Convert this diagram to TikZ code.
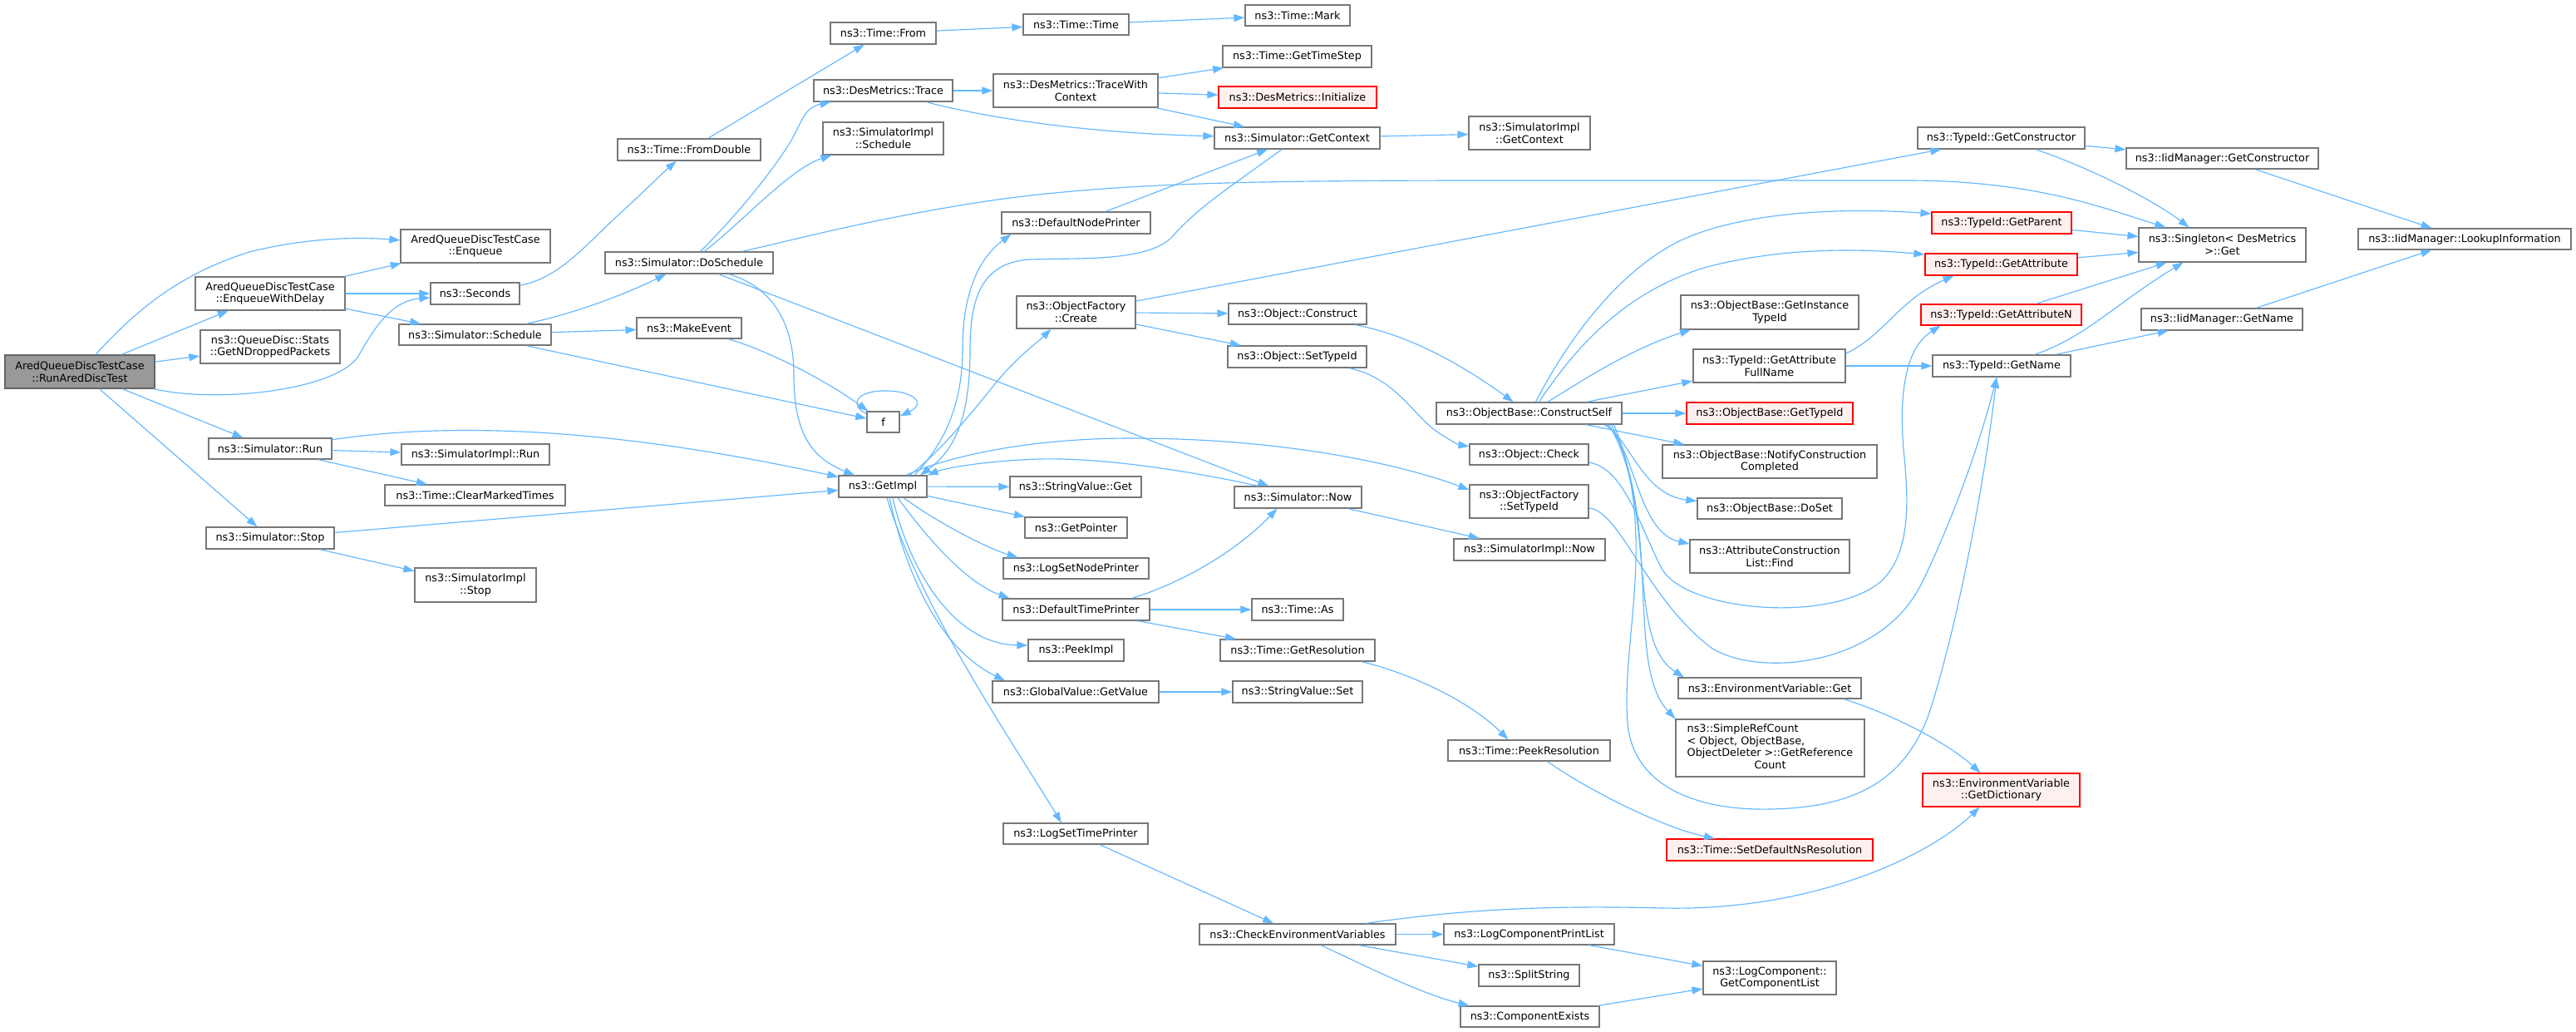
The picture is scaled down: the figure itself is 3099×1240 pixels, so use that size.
\documentclass[tikz,border=0pt]{standalone}
\usepackage{fontspec}
\setmainfont{DejaVu Sans}
\usetikzlibrary{arrows.meta,calc}
\definecolor{edgec}{HTML}{63B8FF}
\definecolor{nodeb}{HTML}{777777}
\definecolor{mainf}{HTML}{999999}
\definecolor{redf}{HTML}{FFF0F0}
\newcommand{\mynode}[7][]{\node[box,#1,minimum width={#4-#3},minimum height={#6-#5}] (#2) at ({(#3+#4)/2},{(#5+#6)/2}) {#7};}
\begin{document}
\begin{tikzpicture}[x=1pt,y=-1pt,
  box/.style={draw=nodeb,line width=1.2pt,fill=white,inner sep=0pt,align=center,font=\fontsize{12.8}{14.7}\selectfont},
  mainbox/.style={fill=mainf,draw=nodeb!85!black},
  redbox/.style={draw=red,fill=redf},
  cl/.style={draw=edgec,line width=1.15pt,-{Triangle[length=13pt,width=9pt]}}]
\fill[white] (0,0) rectangle (3099,1240);
\useasboundingbox (0,0) rectangle (3099,1240);

\mynode[mainbox]{main}{6}{186}{427}{467}{AredQueueDiscTestCase\\::RunAredDiscTest}
\mynode{enq}{482}{662}{276}{316}{AredQueueDiscTestCase\\::Enqueue}
\mynode{ewd}{235}{415}{333}{373}{AredQueueDiscTestCase\\::EnqueueWithDelay}
\mynode{drop}{241}{409}{397}{437}{ns3::QueueDisc::Stats\\::GetNDroppedPackets}
\mynode{sec}{518}{625}{340}{366}{ns3::Seconds}
\mynode{sched}{480}{663}{390}{415}{ns3::Simulator::Schedule}
\mynode{run}{251}{399}{527}{552}{ns3::Simulator::Run}
\mynode{stop}{248}{402}{634}{660}{ns3::Simulator::Stop}
\mynode{simplrun}{483}{661}{534}{559}{ns3::SimulatorImpl::Run}
\mynode{clear}{463}{680}{583}{608}{ns3::Time::ClearMarkedTimes}
\mynode{simplstop}{499}{645}{683}{724}{ns3::SimulatorImpl\\::Stop}
\mynode{fromdbl}{743}{915}{167}{193}{ns3::Time::FromDouble}
\mynode{dosched}{728}{930}{303}{329}{ns3::Simulator::DoSchedule}
\mynode{mkev}{766}{892}{382}{407}{ns3::MakeEvent}
\mynode{from}{999}{1126}{27}{53}{ns3::Time::From}
\mynode{trace}{979}{1146}{96}{122}{ns3::DesMetrics::Trace}
\mynode{simplsched}{990}{1135}{147}{186}{ns3::SimulatorImpl\\::Schedule}
\mynode{f}{1043}{1082}{495}{520}{f}
\mynode{getimpl}{1009}{1115}{572}{598}{ns3::GetImpl}
\mynode{ttime}{1231}{1358}{17}{42}{ns3::Time::Time}
\mynode{mark}{1498}{1624}{6}{31}{ns3::Time::Mark}
\mynode{tstep}{1471}{1650}{55}{81}{ns3::Time::GetTimeStep}
\mynode{twc}{1195}{1393}{89}{129}{ns3::DesMetrics::TraceWith\\Context}
\mynode[redbox]{init}{1466}{1656}{104}{130}{ns3::DesMetrics::Initialize}
\mynode{getctx}{1461}{1660}{153}{179}{ns3::Simulator::GetContext}
\mynode{dnp}{1205}{1384}{255}{281}{ns3::DefaultNodePrinter}
\mynode{ofcreate}{1223}{1366}{356}{395}{ns3::ObjectFactory\\::Create}
\mynode{oconstruct}{1478}{1644}{365}{390}{ns3::Object::Construct}
\mynode{osettid}{1477}{1644}{416}{442}{ns3::Object::SetTypeId}
\mynode{svget}{1215}{1373}{573}{598}{ns3::StringValue::Get}
\mynode{now}{1485}{1638}{585}{611}{ns3::Simulator::Now}
\mynode{getptr}{1233}{1356}{622}{647}{ns3::GetPointer}
\mynode{lsnp}{1207}{1382}{671}{696}{ns3::LogSetNodePrinter}
\mynode{dtp}{1206}{1383}{720}{746}{ns3::DefaultTimePrinter}
\mynode{tas}{1506}{1616}{720}{746}{ns3::Time::As}
\mynode{peek}{1237}{1352}{769}{795}{ns3::PeekImpl}
\mynode{getres}{1468}{1654}{769}{795}{ns3::Time::GetResolution}
\mynode{gvget}{1194}{1394}{819}{845}{ns3::GlobalValue::GetValue}
\mynode{svset}{1483}{1639}{819}{845}{ns3::StringValue::Set}
\mynode{lstp}{1207}{1381}{990}{1015}{ns3::LogSetTimePrinter}
\mynode{cev}{1443}{1679}{1111}{1136}{ns3::CheckEnvironmentVariables}
\mynode{simplctx}{1767}{1913}{140}{180}{ns3::SimulatorImpl\\::GetContext}
\mynode{cself}{1728}{1951}{484}{510}{ns3::ObjectBase::ConstructSelf}
\mynode{ocheck}{1768}{1911}{534}{559}{ns3::Object::Check}
\mynode{ofsettid}{1768}{1911}{583}{623}{ns3::ObjectFactory\\::SetTypeId}
\mynode{simplnow}{1749}{1931}{648}{674}{ns3::SimulatorImpl::Now}
\mynode{peekres}{1742}{1937}{890}{915}{ns3::Time::PeekResolution}
\mynode{lcpl}{1737}{1942}{1111}{1136}{ns3::LogComponentPrintList}
\mynode{split}{1779}{1900}{1160}{1186}{ns3::SplitString}
\mynode{cexists}{1757}{1924}{1210}{1235}{ns3::ComponentExists}
\mynode{ginst}{2022}{2236}{355}{396}{ns3::ObjectBase::GetInstance\\TypeId}
\mynode{gafn}{2037}{2220}{420}{460}{ns3::TypeId::GetAttribute\\FullName}
\mynode[redbox]{obgtid}{2029}{2229}{484}{510}{ns3::ObjectBase::GetTypeId}
\mynode{ncc}{2000}{2258}{535}{575}{ns3::ObjectBase::NotifyConstruction\\Completed}
\mynode{doset}{2042}{2216}{599}{624}{ns3::ObjectBase::DoSet}
\mynode{acfind}{2033}{2225}{649}{689}{ns3::AttributeConstruction\\List::Find}
\mynode{evget}{2019}{2239}{815}{840}{ns3::EnvironmentVariable::Get}
\mynode{src}{2016}{2243}{865}{934}{\begin{tabular}{@{}c@{}}\multicolumn{1}{@{}l@{}}{ns3::SimpleRefCount}\\\multicolumn{1}{@{}l@{}}{< Object, ObjectBase,}\\ObjectDeleter >::GetReference\\Count\end{tabular}}
\mynode[redbox]{sdnr}{2005}{2253}{1009}{1035}{ns3::Time::SetDefaultNsResolution}
\mynode{gcl}{2049}{2209}{1156}{1196}{ns3::LogComponent::\\GetComponentList}
\mynode{tgc}{2307}{2508}{153}{179}{ns3::TypeId::GetConstructor}
\mynode[redbox]{tgp}{2324}{2492}{255}{281}{ns3::TypeId::GetParent}
\mynode[redbox]{tga}{2316}{2499}{305}{331}{ns3::TypeId::GetAttribute}
\mynode[redbox]{tgan}{2311}{2504}{366}{391}{ns3::TypeId::GetAttributeN}
\mynode{tgn}{2325}{2491}{427}{453}{ns3::TypeId::GetName}
\mynode[redbox]{evdict}{2313}{2502}{930}{970}{ns3::EnvironmentVariable\\::GetDictionary}
\mynode{iigc}{2558}{2789}{178}{203}{ns3::IidManager::GetConstructor}
\mynode{sing}{2573}{2774}{274}{315}{ns3::Singleton< DesMetrics\\ >::Get}
\mynode{iign}{2576}{2770}{371}{397}{ns3::IidManager::GetName}
\mynode{lookup}{2837}{3093}{275}{300}{ns3::IidManager::LookupInformation}

% edges from the main node
\draw[cl] (main) .. controls (165,372) and (215,330) .. (300,303) .. controls (360,288) and (420,284) .. (enq);
\draw[cl] (main) -- (ewd);
\draw[cl] (main) -- (drop);
\draw[cl] (main) .. controls (260,485) and (400,470) .. (430,430) .. controls (450,395) and (470,362) .. (sec);
\draw[cl] (main) -- (run);
\draw[cl] (main) -- (stop);
\draw[cl] (ewd) -- (enq);
\draw[cl] (ewd) -- (sec);
\draw[cl] (ewd) -- (sched);
\draw[cl] (sec) .. controls (670,335) and (700,300) .. (740,262) .. controls (770,235) and (795,210) .. (fromdbl);
\draw[cl] (fromdbl) -- (from);
\draw[cl] (from) -- (ttime);
\draw[cl] (ttime) -- (mark);
\draw[cl] (sched) .. controls (700,375) and (760,350) .. (dosched);
\draw[cl] (sched) -- (mkev);
\draw[cl] (sched) -- (f);
\draw[cl] (mkev) .. controls (920,420) and (990,455) .. (f);
\draw[cl] ([yshift=-3]f.north west) .. controls (1025,490) and (1025,472) .. (1060,470) .. controls (1100,469) and (1115,485) .. ([yshift=-6]f.north east);
\draw[cl] (dosched) .. controls (890,255) and (925,210) .. (945,180) .. controls (965,150) and (965,130) .. (trace);
\draw[cl] (dosched) .. controls (890,270) and (950,203) .. (simplsched);
\draw[cl] (dosched) .. controls (950,290) and (1050,262) .. (1200,240) .. controls (1350,220) and (1500,217) .. (1800,217) -- (2300,217) .. controls (2450,218) and (2530,250) .. (sing);
\draw[cl] (dosched) .. controls (930,345) and (955,390) .. (955,450) .. controls (955,520) and (975,550) .. (getimpl);
\draw[cl] (dosched) -- (now);
\draw[cl] (trace) -- (twc);
\draw[cl] (trace) .. controls (1180,140) and (1300,160) .. (getctx);
\draw[cl] (twc) -- (tstep);
\draw[cl] (twc) -- (init);
\draw[cl] (twc) -- (getctx);
\draw[cl] (getctx) -- (simplctx);
\draw[cl] (dnp) -- (getctx);
\draw[cl] (getctx) .. controls (1480,225) and (1440,250) .. (1410,285) .. controls (1380,315) and (1300,310) .. (1240,312) .. controls (1180,315) and (1167,360) .. (1167,420) .. controls (1167,500) and (1150,540) .. ([xshift=45]getimpl.north);
\draw[cl] ([xshift=38]getimpl.north) .. controls (1140,530) and (1158,480) .. (1158,420) .. controls (1158,340) and (1185,305) .. ([xshift=-78]dnp.south);
\draw[cl] ([xshift=32]getimpl.north) .. controls (1130,545) and (1170,495) .. (1200,458) .. controls (1225,428) and (1250,410) .. ([xshift=-30]ofcreate.south);
\draw[cl] ([xshift=28]getimpl.north) .. controls (1150,545) and (1250,527) .. (1360,527) .. controls (1550,527) and (1690,560) .. ([yshift=14]ofsettid.west);
\draw[cl] (getimpl) -- (svget);
\draw[cl] (getimpl) -- (getptr);
\draw[cl] ([xshift=25]getimpl.south) .. controls (1130,630) and (1190,660) .. ([xshift=-70]lsnp.north);
\draw[cl] ([xshift=18]getimpl.south) .. controls (1110,640) and (1160,700) .. ([xshift=-80]dtp.north);
\draw[cl] ([xshift=12]getimpl.south) .. controls (1095,690) and (1150,775) .. ([yshift=6]peek.west);
\draw[cl] ([xshift=8]getimpl.south) .. controls (1090,690) and (1130,780) .. ([xshift=-85]gvget.north);
\draw[cl] ([xshift=5]getimpl.south) .. controls (1105,725) and (1210,880) .. ([xshift=-17]lstp.north);
\draw[cl] ([xshift=-48]now.north) .. controls (1440,568) and (1330,550) .. (1250,552) .. controls (1190,554) and (1140,562) .. (getimpl.north east);
\draw[cl] (run) .. controls (460,520) and (520,516) .. (600,518) .. controls (750,522) and (900,550) .. (getimpl);
\draw[cl] (run) -- (simplrun);
\draw[cl] (run) -- (clear);
\draw[cl] (stop) -- (getimpl);
\draw[cl] (stop) -- (simplstop);
\draw[cl] (ofcreate) -- (tgc);
\draw[cl] (ofcreate) -- (oconstruct);
\draw[cl] (ofcreate) -- (osettid);
\draw[cl] (oconstruct) .. controls (1680,400) and (1740,425) .. (cself);
\draw[cl] (osettid) .. controls (1680,455) and (1700,500) .. (1730,520) .. controls (1745,530) and (1755,535) .. (ocheck);
% ConstructSelf
\draw[cl] (cself) .. controls (1900,460) and (1960,420) .. ([xshift=-95]ginst.south);
\draw[cl] (cself) -- (gafn);
\draw[cl] (cself) -- (obgtid);
\draw[cl] (cself) -- (ncc);
\draw[cl] ([xshift=90]cself.south) .. controls (1960,525) and (1975,595) .. ([yshift=9]doset.west);
\draw[cl] ([xshift=93]cself.south) .. controls (1968,540) and (1970,640) .. ([yshift=15]acfind.west);
\draw[cl] ([xshift=96]cself.south) .. controls (1995,610) and (1955,770) .. ([xshift=-103]evget.north);
\draw[cl] ([xshift=99]cself.south) .. controls (2000,630) and (1955,800) .. (src.north west);
\draw[cl] ([xshift=102]cself.south) .. controls (1995,640) and (1950,770) .. (1958,870) .. controls (1965,945) and (2040,975) .. (2130,973) .. controls (2230,971) and (2290,940) .. (2320,860) .. controls (2350,770) and (2385,600) .. ([xshift=-6]tgn.south);
\draw[cl] ([xshift=8]cself.north) .. controls (1880,420) and (1940,330) .. (2020,290) .. controls (2100,252) and (2230,250) .. ([yshift=11]tgp.west);
\draw[cl] ([xshift=12]cself.north) .. controls (1900,410) and (1960,350) .. (2050,322) .. controls (2150,295) and (2250,300) .. ([yshift=12]tga.west);
\draw[cl] ([yshift=15]gafn.east) .. controls (2265,405) and (2285,360) .. ([xshift=-57]tga.south);
\draw[cl] (gafn) -- (tgn);
\draw[cl] (ocheck) .. controls (1955,562) and (1975,640) .. (2000,685) .. controls (2030,735) and (2200,750) .. (2262,700) .. controls (2300,665) and (2296,600) .. (2290,540) .. controls (2285,480) and (2290,420) .. ([xshift=-73]tgan.south);
\draw[cl] (ofsettid) .. controls (1950,615) and (1980,720) .. (2060,780) .. controls (2120,815) and (2260,800) .. (2310,705) .. controls (2345,635) and (2380,540) .. ([xshift=-6]tgn.south);
% TypeId / IidManager
\draw[cl] (tgc) -- (iigc);
\draw[cl] (tgc) .. controls (2510,200) and (2590,240) .. ([xshift=-40]sing.north);
\draw[cl] (tgp) -- (sing);
\draw[cl] (tga) -- (sing);
\draw[cl] (tgan) -- (sing);
\draw[cl] (tgn) .. controls (2510,405) and (2545,365) .. ([xshift=-47]sing.south);
\draw[cl] (tgn) -- (iign);
\draw[cl] (iigc) -- (lookup);
\draw[cl] (iign) -- (lookup);
% lower part
\draw[cl] ([xshift=67]dtp.north) .. controls (1410,705) and (1480,670) .. ([xshift=-25]now.south);
\draw[cl] (dtp) -- (tas);
\draw[cl] (dtp) -- (getres);
\draw[cl] ([xshift=77]getres.south) .. controls (1690,808) and (1765,840) .. ([xshift=-25]peekres.north);
\draw[cl] ([xshift=22]peekres.south) .. controls (1910,950) and (2000,995) .. ([xshift=-66]sdnr.north);
\draw[cl] (gvget) -- (svset);
\draw[cl] (lstp) -- (cev);
\draw[cl] ([xshift=82]cev.north) .. controls (1750,1095) and (1850,1088) .. (2000,1092) .. controls (2180,1096) and (2320,1030) .. ([xshift=-26]evdict.south);
\draw[cl] (cev) -- (lcpl);
\draw[cl] (cev) -- (split);
\draw[cl] (cev) .. controls (1650,1165) and (1710,1195) .. ([xshift=-73]cexists.north);
\draw[cl] (lcpl) -- (gcl);
\draw[cl] (cexists) -- (gcl);
\draw[cl] ([xshift=89]evget.south) .. controls (2280,860) and (2345,895) .. ([xshift=-25]evdict.north);
\draw[cl] (now) -- (simplnow);
\end{tikzpicture}
\end{document}
